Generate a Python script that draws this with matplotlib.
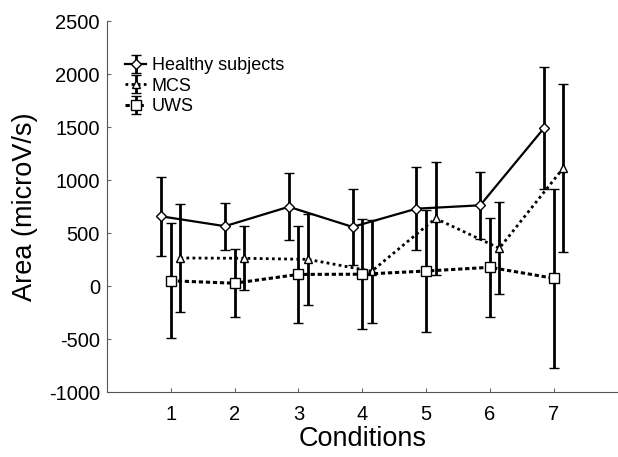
import matplotlib
matplotlib.use("Agg")
import matplotlib.pyplot as plt
import numpy as np

plt.rcParams['font.family'] = ['Liberation Sans', 'DejaVu Sans']
plt.rcParams['axes.unicode_minus'] = False

conditions = [1, 2, 3, 4, 5, 6, 7]
healthy_mean = [658, 565, 748, 558, 730, 762, 1490]
healthy_sd = [372, 220, 315, 355, 390, 318, 577]
mcs_mean = [265, 262, 252, 140, 638, 357, 1112]
mcs_sd = [508, 300, 430, 486, 536, 433, 791]
uws_mean = [50, 27, 110, 112, 142, 177, 74]
uws_sd = [542, 322, 460, 519, 574, 467, 846]

fig = plt.figure(figsize=(6.18, 4.57), dpi=100)
ax = fig.add_axes([0.173, 0.142, 0.826, 0.812])

x = np.array(conditions, dtype=float)
common = dict(color='black', ecolor='black', elinewidth=2, capsize=3.5, capthick=2,
              markerfacecolor='white', markeredgecolor='black', markeredgewidth=1.0)
ax.errorbar(x - 0.15, healthy_mean, yerr=healthy_sd, fmt='D', linestyle='-', linewidth=1.6,
            label='Healthy subjects', markersize=5, **common)
ax.errorbar(x + 0.15, mcs_mean, yerr=mcs_sd, fmt='^', linestyle=(0, (1, 1.2)), linewidth=2.0,
            label='MCS', markersize=6, **common)
ax.errorbar(x, uws_mean, yerr=uws_sd, fmt='s', linestyle=(0, (1.4, 0.9)), linewidth=2.2,
            label='UWS', markersize=7, **common)

ax.set_xlim(0, 8)
ax.set_ylim(-1000, 2500)
ax.set_xticks(conditions)
ax.set_yticks(np.arange(-1000, 2501, 500))
ax.tick_params(direction='in', length=3, labelsize=14.5, color='#666666')
ax.tick_params(axis='y', pad=5)
ax.tick_params(axis='x', pad=9)
for s in ['top', 'right']:
    ax.spines[s].set_visible(False)
for s in ['left', 'bottom']:
    ax.spines[s].set_color('#555555')
ax.set_xlabel('Conditions', fontsize=19.5, labelpad=2)
ax.set_ylabel('Area (microV/s)', fontsize=19.5, labelpad=8)
ax.legend(loc='upper left', bbox_to_anchor=(0.035, 0.903), frameon=False, fontsize=13,
          handlelength=1.2, handletextpad=0.3, labelspacing=0.2, borderaxespad=0.0,
          borderpad=0.0)

fig.savefig('out.png', dpi=100)
